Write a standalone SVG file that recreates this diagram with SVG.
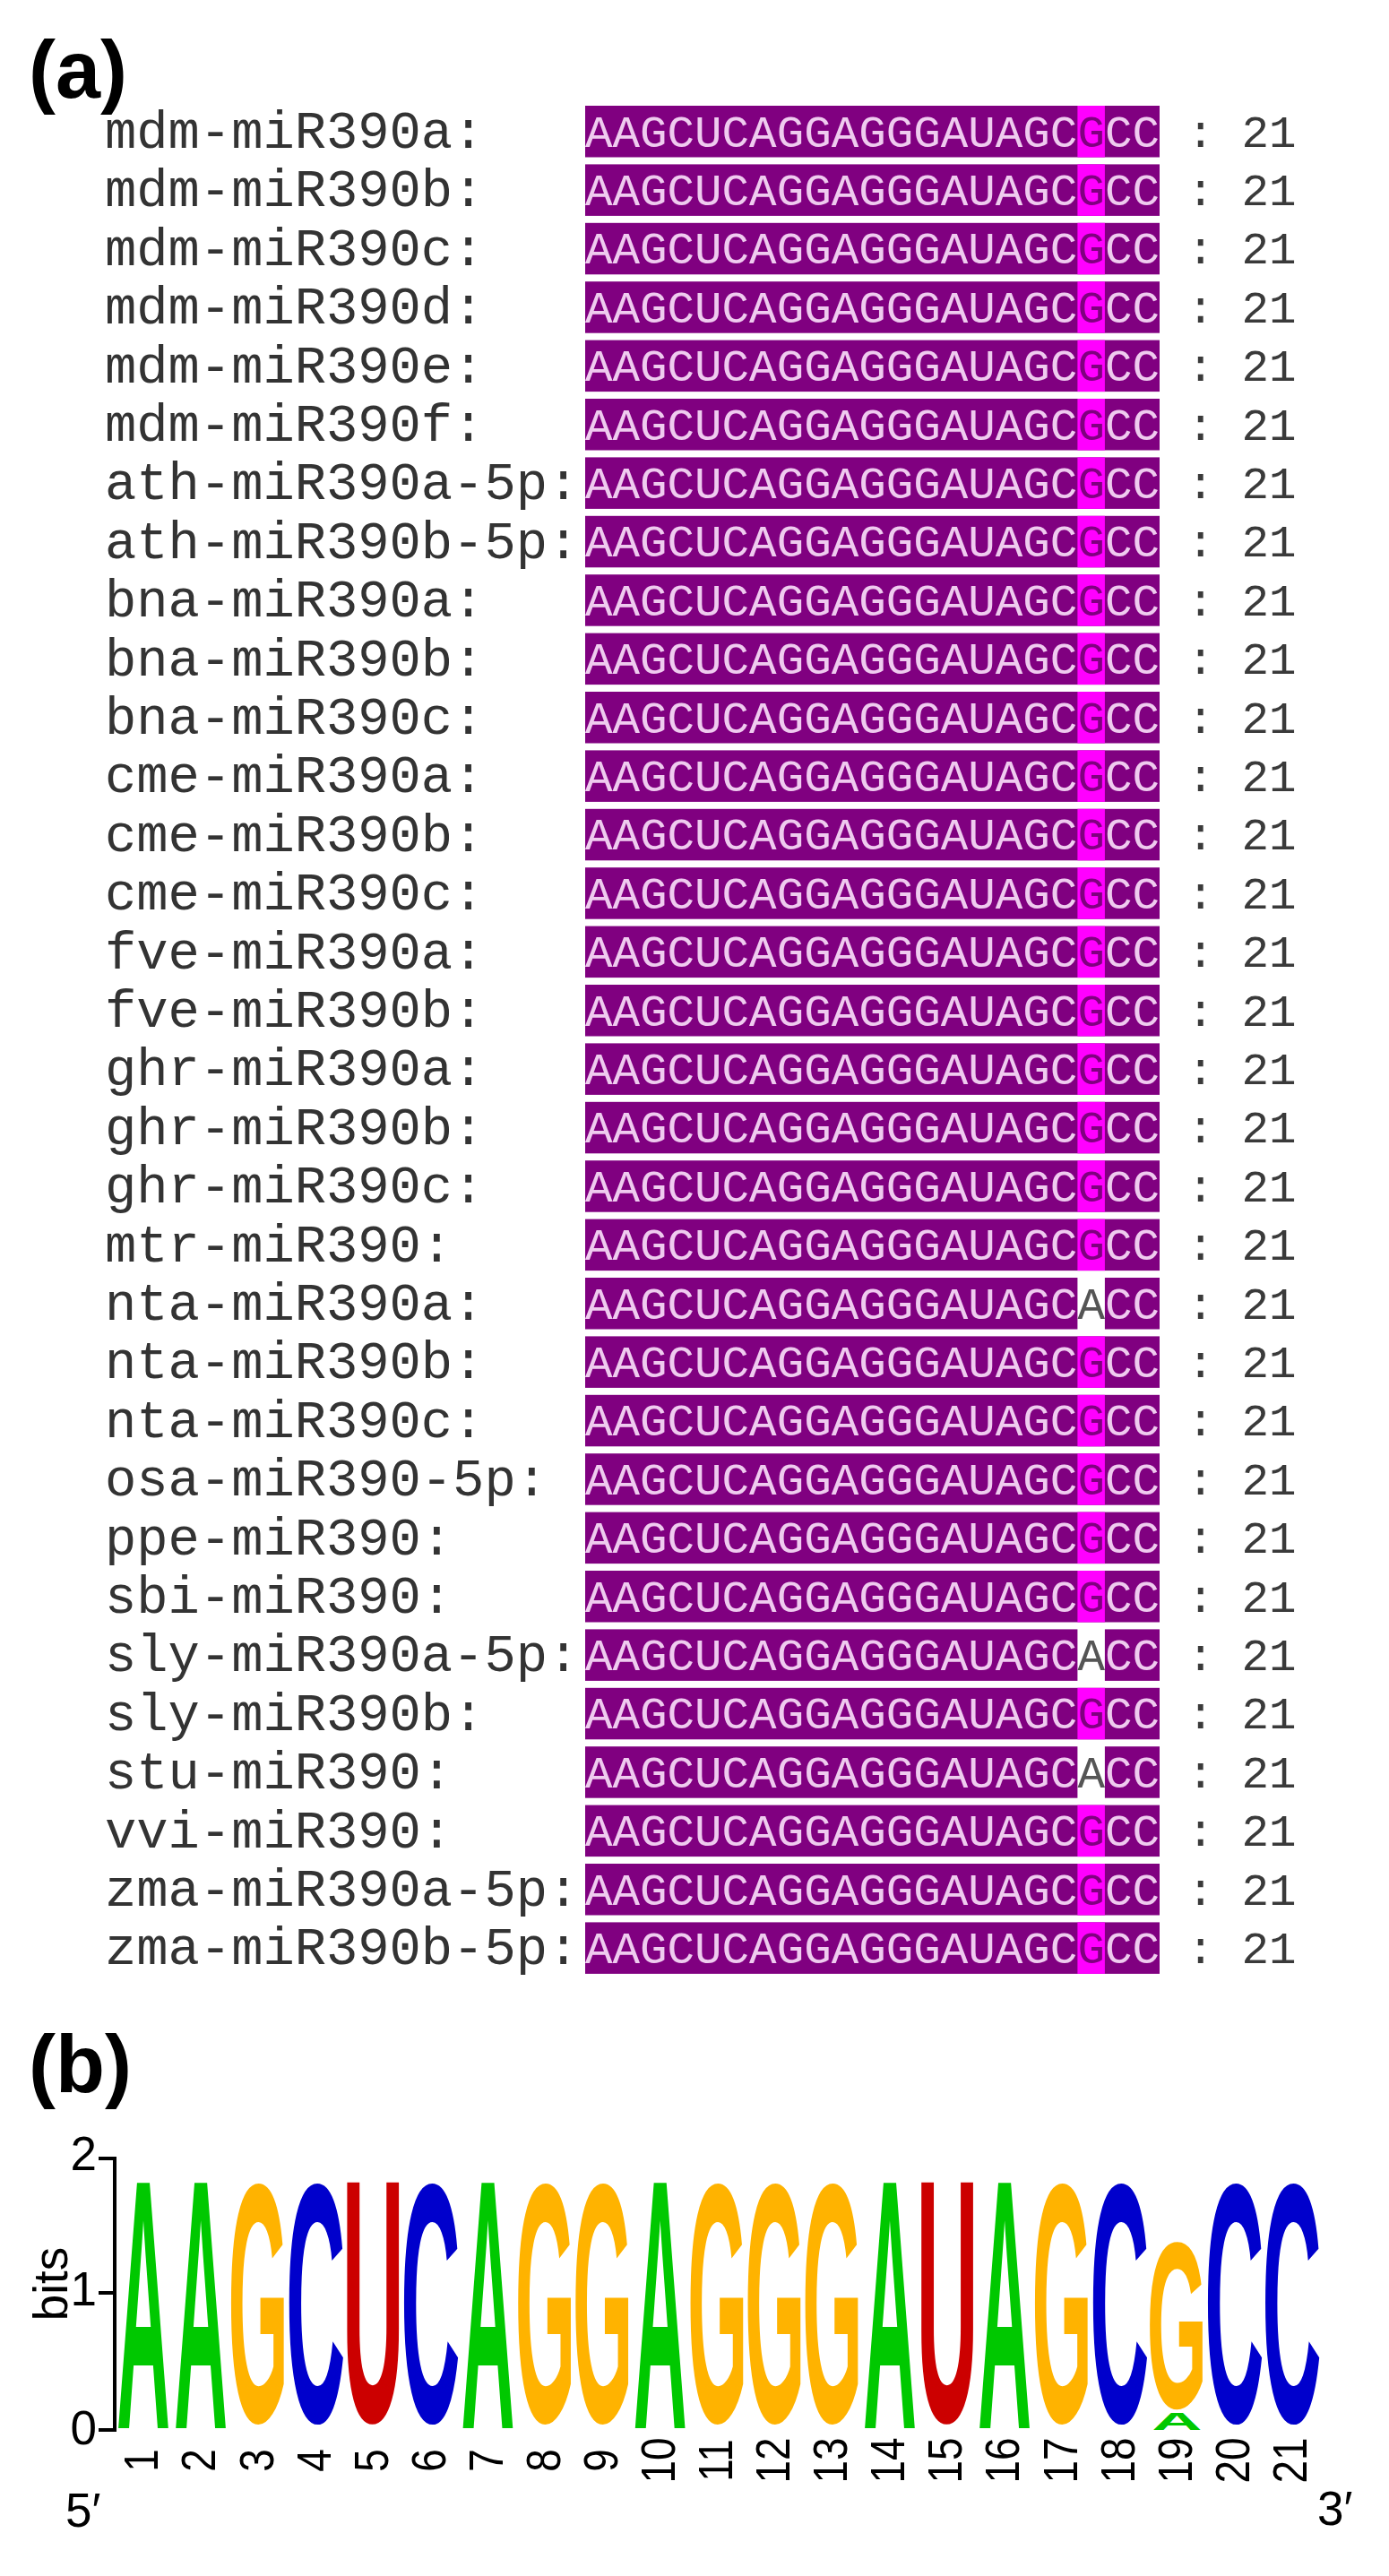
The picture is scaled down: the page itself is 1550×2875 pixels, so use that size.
<svg xmlns="http://www.w3.org/2000/svg" width="1550" height="2875" viewBox="0 0 1550 2875">
<style>
.panel{font-family:"Liberation Sans",Arial,sans-serif;font-weight:bold;font-size:90px;fill:#000}
.lbl{font-family:"Liberation Mono","Courier New",monospace;font-size:58.8px;fill:#333}
.seq{font-family:"Liberation Mono","Courier New",monospace;font-size:50.86px;fill:#efcbef}
.var{fill:#800080}
.alt{fill:#555}
.cnt{font-family:"Liberation Mono","Courier New",monospace;font-size:50.86px;fill:#3a3a3a}
.box{fill:#800080}
.hl{fill:#ff00ff}
.L{font-family:"Liberation Sans",Arial,sans-serif;font-weight:bold;font-size:100px;text-anchor:middle}
.A{fill:#00c800}.C{fill:#0000cc}.G{fill:#ffb300}.U{fill:#cc0000}
.ax{font-family:"Liberation Sans",Arial,sans-serif;font-size:53px;fill:#000}
.xn{font-family:"Liberation Sans",Arial,sans-serif;font-size:54px;fill:#000;text-anchor:middle}
.axis{stroke:#000;stroke-width:4;fill:none}
</style>
<rect width="1550" height="2875" fill="#fff"/>
<text class="panel" x="32" y="109">(a)</text>
<text class="panel" x="32" y="2335">(b)</text>

<g id="alignment">
<g id="row1" transform="translate(0,118)"><text class="lbl" x="117" y="47">mdm-miR390a:</text><rect class="box" x="653" y="0" width="641" height="57.5"/><rect class="hl" x="1202.4" y="0" width="30.5" height="57.5"/><text class="seq" x="653" y="45.5">AAGCUCAGGAGGGAUAGC<tspan class="var">G</tspan>CC</text><text class="cnt" x="1324.5" y="45.5">: 21</text></g>
<g id="row2" transform="translate(0,183.4)"><text class="lbl" x="117" y="47">mdm-miR390b:</text><rect class="box" x="653" y="0" width="641" height="57.5"/><rect class="hl" x="1202.4" y="0" width="30.5" height="57.5"/><text class="seq" x="653" y="45.5">AAGCUCAGGAGGGAUAGC<tspan class="var">G</tspan>CC</text><text class="cnt" x="1324.5" y="45.5">: 21</text></g>
<g id="row3" transform="translate(0,248.8)"><text class="lbl" x="117" y="47">mdm-miR390c:</text><rect class="box" x="653" y="0" width="641" height="57.5"/><rect class="hl" x="1202.4" y="0" width="30.5" height="57.5"/><text class="seq" x="653" y="45.5">AAGCUCAGGAGGGAUAGC<tspan class="var">G</tspan>CC</text><text class="cnt" x="1324.5" y="45.5">: 21</text></g>
<g id="row4" transform="translate(0,314.2)"><text class="lbl" x="117" y="47">mdm-miR390d:</text><rect class="box" x="653" y="0" width="641" height="57.5"/><rect class="hl" x="1202.4" y="0" width="30.5" height="57.5"/><text class="seq" x="653" y="45.5">AAGCUCAGGAGGGAUAGC<tspan class="var">G</tspan>CC</text><text class="cnt" x="1324.5" y="45.5">: 21</text></g>
<g id="row5" transform="translate(0,379.6)"><text class="lbl" x="117" y="47">mdm-miR390e:</text><rect class="box" x="653" y="0" width="641" height="57.5"/><rect class="hl" x="1202.4" y="0" width="30.5" height="57.5"/><text class="seq" x="653" y="45.5">AAGCUCAGGAGGGAUAGC<tspan class="var">G</tspan>CC</text><text class="cnt" x="1324.5" y="45.5">: 21</text></g>
<g id="row6" transform="translate(0,445)"><text class="lbl" x="117" y="47">mdm-miR390f:</text><rect class="box" x="653" y="0" width="641" height="57.5"/><rect class="hl" x="1202.4" y="0" width="30.5" height="57.5"/><text class="seq" x="653" y="45.5">AAGCUCAGGAGGGAUAGC<tspan class="var">G</tspan>CC</text><text class="cnt" x="1324.5" y="45.5">: 21</text></g>
<g id="row7" transform="translate(0,510.4)"><text class="lbl" x="117" y="47">ath-miR390a-5p:</text><rect class="box" x="653" y="0" width="641" height="57.5"/><rect class="hl" x="1202.4" y="0" width="30.5" height="57.5"/><text class="seq" x="653" y="45.5">AAGCUCAGGAGGGAUAGC<tspan class="var">G</tspan>CC</text><text class="cnt" x="1324.5" y="45.5">: 21</text></g>
<g id="row8" transform="translate(0,575.8)"><text class="lbl" x="117" y="47">ath-miR390b-5p:</text><rect class="box" x="653" y="0" width="641" height="57.5"/><rect class="hl" x="1202.4" y="0" width="30.5" height="57.5"/><text class="seq" x="653" y="45.5">AAGCUCAGGAGGGAUAGC<tspan class="var">G</tspan>CC</text><text class="cnt" x="1324.5" y="45.5">: 21</text></g>
<g id="row9" transform="translate(0,641.2)"><text class="lbl" x="117" y="47">bna-miR390a:</text><rect class="box" x="653" y="0" width="641" height="57.5"/><rect class="hl" x="1202.4" y="0" width="30.5" height="57.5"/><text class="seq" x="653" y="45.5">AAGCUCAGGAGGGAUAGC<tspan class="var">G</tspan>CC</text><text class="cnt" x="1324.5" y="45.5">: 21</text></g>
<g id="row10" transform="translate(0,706.6)"><text class="lbl" x="117" y="47">bna-miR390b:</text><rect class="box" x="653" y="0" width="641" height="57.5"/><rect class="hl" x="1202.4" y="0" width="30.5" height="57.5"/><text class="seq" x="653" y="45.5">AAGCUCAGGAGGGAUAGC<tspan class="var">G</tspan>CC</text><text class="cnt" x="1324.5" y="45.5">: 21</text></g>
<g id="row11" transform="translate(0,772)"><text class="lbl" x="117" y="47">bna-miR390c:</text><rect class="box" x="653" y="0" width="641" height="57.5"/><rect class="hl" x="1202.4" y="0" width="30.5" height="57.5"/><text class="seq" x="653" y="45.5">AAGCUCAGGAGGGAUAGC<tspan class="var">G</tspan>CC</text><text class="cnt" x="1324.5" y="45.5">: 21</text></g>
<g id="row12" transform="translate(0,837.4)"><text class="lbl" x="117" y="47">cme-miR390a:</text><rect class="box" x="653" y="0" width="641" height="57.5"/><rect class="hl" x="1202.4" y="0" width="30.5" height="57.5"/><text class="seq" x="653" y="45.5">AAGCUCAGGAGGGAUAGC<tspan class="var">G</tspan>CC</text><text class="cnt" x="1324.5" y="45.5">: 21</text></g>
<g id="row13" transform="translate(0,902.8)"><text class="lbl" x="117" y="47">cme-miR390b:</text><rect class="box" x="653" y="0" width="641" height="57.5"/><rect class="hl" x="1202.4" y="0" width="30.5" height="57.5"/><text class="seq" x="653" y="45.5">AAGCUCAGGAGGGAUAGC<tspan class="var">G</tspan>CC</text><text class="cnt" x="1324.5" y="45.5">: 21</text></g>
<g id="row14" transform="translate(0,968.2)"><text class="lbl" x="117" y="47">cme-miR390c:</text><rect class="box" x="653" y="0" width="641" height="57.5"/><rect class="hl" x="1202.4" y="0" width="30.5" height="57.5"/><text class="seq" x="653" y="45.5">AAGCUCAGGAGGGAUAGC<tspan class="var">G</tspan>CC</text><text class="cnt" x="1324.5" y="45.5">: 21</text></g>
<g id="row15" transform="translate(0,1033.6)"><text class="lbl" x="117" y="47">fve-miR390a:</text><rect class="box" x="653" y="0" width="641" height="57.5"/><rect class="hl" x="1202.4" y="0" width="30.5" height="57.5"/><text class="seq" x="653" y="45.5">AAGCUCAGGAGGGAUAGC<tspan class="var">G</tspan>CC</text><text class="cnt" x="1324.5" y="45.5">: 21</text></g>
<g id="row16" transform="translate(0,1099)"><text class="lbl" x="117" y="47">fve-miR390b:</text><rect class="box" x="653" y="0" width="641" height="57.5"/><rect class="hl" x="1202.4" y="0" width="30.5" height="57.5"/><text class="seq" x="653" y="45.5">AAGCUCAGGAGGGAUAGC<tspan class="var">G</tspan>CC</text><text class="cnt" x="1324.5" y="45.5">: 21</text></g>
<g id="row17" transform="translate(0,1164.4)"><text class="lbl" x="117" y="47">ghr-miR390a:</text><rect class="box" x="653" y="0" width="641" height="57.5"/><rect class="hl" x="1202.4" y="0" width="30.5" height="57.5"/><text class="seq" x="653" y="45.5">AAGCUCAGGAGGGAUAGC<tspan class="var">G</tspan>CC</text><text class="cnt" x="1324.5" y="45.5">: 21</text></g>
<g id="row18" transform="translate(0,1229.8)"><text class="lbl" x="117" y="47">ghr-miR390b:</text><rect class="box" x="653" y="0" width="641" height="57.5"/><rect class="hl" x="1202.4" y="0" width="30.5" height="57.5"/><text class="seq" x="653" y="45.5">AAGCUCAGGAGGGAUAGC<tspan class="var">G</tspan>CC</text><text class="cnt" x="1324.5" y="45.5">: 21</text></g>
<g id="row19" transform="translate(0,1295.2)"><text class="lbl" x="117" y="47">ghr-miR390c:</text><rect class="box" x="653" y="0" width="641" height="57.5"/><rect class="hl" x="1202.4" y="0" width="30.5" height="57.5"/><text class="seq" x="653" y="45.5">AAGCUCAGGAGGGAUAGC<tspan class="var">G</tspan>CC</text><text class="cnt" x="1324.5" y="45.5">: 21</text></g>
<g id="row20" transform="translate(0,1360.6)"><text class="lbl" x="117" y="47">mtr-miR390:</text><rect class="box" x="653" y="0" width="641" height="57.5"/><rect class="hl" x="1202.4" y="0" width="30.5" height="57.5"/><text class="seq" x="653" y="45.5">AAGCUCAGGAGGGAUAGC<tspan class="var">G</tspan>CC</text><text class="cnt" x="1324.5" y="45.5">: 21</text></g>
<g id="row21" transform="translate(0,1426)"><text class="lbl" x="117" y="47">nta-miR390a:</text><rect class="box" x="653" y="0" width="549.4" height="57.5"/><rect class="box" x="1232.9" y="0" width="61.1" height="57.5"/><text class="seq" x="653" y="45.5">AAGCUCAGGAGGGAUAGC<tspan class="alt">A</tspan>CC</text><text class="cnt" x="1324.5" y="45.5">: 21</text></g>
<g id="row22" transform="translate(0,1491.4)"><text class="lbl" x="117" y="47">nta-miR390b:</text><rect class="box" x="653" y="0" width="641" height="57.5"/><rect class="hl" x="1202.4" y="0" width="30.5" height="57.5"/><text class="seq" x="653" y="45.5">AAGCUCAGGAGGGAUAGC<tspan class="var">G</tspan>CC</text><text class="cnt" x="1324.5" y="45.5">: 21</text></g>
<g id="row23" transform="translate(0,1556.8)"><text class="lbl" x="117" y="47">nta-miR390c:</text><rect class="box" x="653" y="0" width="641" height="57.5"/><rect class="hl" x="1202.4" y="0" width="30.5" height="57.5"/><text class="seq" x="653" y="45.5">AAGCUCAGGAGGGAUAGC<tspan class="var">G</tspan>CC</text><text class="cnt" x="1324.5" y="45.5">: 21</text></g>
<g id="row24" transform="translate(0,1622.2)"><text class="lbl" x="117" y="47">osa-miR390-5p:</text><rect class="box" x="653" y="0" width="641" height="57.5"/><rect class="hl" x="1202.4" y="0" width="30.5" height="57.5"/><text class="seq" x="653" y="45.5">AAGCUCAGGAGGGAUAGC<tspan class="var">G</tspan>CC</text><text class="cnt" x="1324.5" y="45.5">: 21</text></g>
<g id="row25" transform="translate(0,1687.6)"><text class="lbl" x="117" y="47">ppe-miR390:</text><rect class="box" x="653" y="0" width="641" height="57.5"/><rect class="hl" x="1202.4" y="0" width="30.5" height="57.5"/><text class="seq" x="653" y="45.5">AAGCUCAGGAGGGAUAGC<tspan class="var">G</tspan>CC</text><text class="cnt" x="1324.5" y="45.5">: 21</text></g>
<g id="row26" transform="translate(0,1753)"><text class="lbl" x="117" y="47">sbi-miR390:</text><rect class="box" x="653" y="0" width="641" height="57.5"/><rect class="hl" x="1202.4" y="0" width="30.5" height="57.5"/><text class="seq" x="653" y="45.5">AAGCUCAGGAGGGAUAGC<tspan class="var">G</tspan>CC</text><text class="cnt" x="1324.5" y="45.5">: 21</text></g>
<g id="row27" transform="translate(0,1818.4)"><text class="lbl" x="117" y="47">sly-miR390a-5p:</text><rect class="box" x="653" y="0" width="549.4" height="57.5"/><rect class="box" x="1232.9" y="0" width="61.1" height="57.5"/><text class="seq" x="653" y="45.5">AAGCUCAGGAGGGAUAGC<tspan class="alt">A</tspan>CC</text><text class="cnt" x="1324.5" y="45.5">: 21</text></g>
<g id="row28" transform="translate(0,1883.8)"><text class="lbl" x="117" y="47">sly-miR390b:</text><rect class="box" x="653" y="0" width="641" height="57.5"/><rect class="hl" x="1202.4" y="0" width="30.5" height="57.5"/><text class="seq" x="653" y="45.5">AAGCUCAGGAGGGAUAGC<tspan class="var">G</tspan>CC</text><text class="cnt" x="1324.5" y="45.5">: 21</text></g>
<g id="row29" transform="translate(0,1949.2)"><text class="lbl" x="117" y="47">stu-miR390:</text><rect class="box" x="653" y="0" width="549.4" height="57.5"/><rect class="box" x="1232.9" y="0" width="61.1" height="57.5"/><text class="seq" x="653" y="45.5">AAGCUCAGGAGGGAUAGC<tspan class="alt">A</tspan>CC</text><text class="cnt" x="1324.5" y="45.5">: 21</text></g>
<g id="row30" transform="translate(0,2014.6)"><text class="lbl" x="117" y="47">vvi-miR390:</text><rect class="box" x="653" y="0" width="641" height="57.5"/><rect class="hl" x="1202.4" y="0" width="30.5" height="57.5"/><text class="seq" x="653" y="45.5">AAGCUCAGGAGGGAUAGC<tspan class="var">G</tspan>CC</text><text class="cnt" x="1324.5" y="45.5">: 21</text></g>
<g id="row31" transform="translate(0,2080)"><text class="lbl" x="117" y="47">zma-miR390a-5p:</text><rect class="box" x="653" y="0" width="641" height="57.5"/><rect class="hl" x="1202.4" y="0" width="30.5" height="57.5"/><text class="seq" x="653" y="45.5">AAGCUCAGGAGGGAUAGC<tspan class="var">G</tspan>CC</text><text class="cnt" x="1324.5" y="45.5">: 21</text></g>
<g id="row32" transform="translate(0,2145.4)"><text class="lbl" x="117" y="47">zma-miR390b-5p:</text><rect class="box" x="653" y="0" width="641" height="57.5"/><rect class="hl" x="1202.4" y="0" width="30.5" height="57.5"/><text class="seq" x="653" y="45.5">AAGCUCAGGAGGGAUAGC<tspan class="var">G</tspan>CC</text><text class="cnt" x="1324.5" y="45.5">: 21</text></g>
</g>

<g id="logo">
<g id="yaxis">
<path class="axis" d="M128,2407V2714M110,2409H128M110,2559H128M110,2712H128"/>
<text class="ax" x="108" y="2422" text-anchor="end">2</text>
<text class="ax" x="108" y="2573" text-anchor="end">1</text>
<text class="ax" x="108" y="2728" text-anchor="end">0</text>
<text class="ax" transform="translate(75,2549) rotate(-90)" text-anchor="middle">bits</text>
</g>
<g id="letters">
<text class="L A" transform="translate(160,2710) scale(0.83,3.98)">A</text>
<text class="L A" transform="translate(224.1,2710) scale(0.83,3.98)">A</text>
<text class="L G" transform="translate(288.2,2702.4) scale(0.87,3.8)">G</text>
<text class="L C" transform="translate(352.2,2702.4) scale(0.92,3.8)">C</text>
<text class="L U" transform="translate(416.3,2702) scale(0.96,3.87)">U</text>
<text class="L C" transform="translate(480.4,2702.4) scale(0.92,3.8)">C</text>
<text class="L A" transform="translate(544.5,2710) scale(0.83,3.98)">A</text>
<text class="L G" transform="translate(608.5,2702.4) scale(0.87,3.8)">G</text>
<text class="L G" transform="translate(672.6,2702.4) scale(0.87,3.8)">G</text>
<text class="L A" transform="translate(736.7,2710) scale(0.83,3.98)">A</text>
<text class="L G" transform="translate(800.8,2702.4) scale(0.87,3.8)">G</text>
<text class="L G" transform="translate(864.8,2702.4) scale(0.87,3.8)">G</text>
<text class="L G" transform="translate(928.9,2702.4) scale(0.87,3.8)">G</text>
<text class="L A" transform="translate(993,2710) scale(0.83,3.98)">A</text>
<text class="L U" transform="translate(1057.1,2702) scale(0.96,3.87)">U</text>
<text class="L A" transform="translate(1121.1,2710) scale(0.83,3.98)">A</text>
<text class="L G" transform="translate(1185.2,2702.4) scale(0.87,3.8)">G</text>
<text class="L C" transform="translate(1249.3,2702.4) scale(0.92,3.8)">C</text>
<text class="L G" transform="translate(1313.4,2686.7) scale(0.87,2.64)">G</text>
<text class="L A" transform="translate(1313.4,2712) scale(0.78,0.28)">A</text>
<text class="L C" transform="translate(1377.4,2702.4) scale(0.92,3.8)">C</text>
<text class="L C" transform="translate(1441.5,2702.4) scale(0.92,3.8)">C</text>
</g>
<g id="xaxis">
<text class="xn" transform="translate(176.3,2746) rotate(-90) scale(0.85,1)">1</text>
<text class="xn" transform="translate(240.4,2746) rotate(-90) scale(0.85,1)">2</text>
<text class="xn" transform="translate(304.5,2746) rotate(-90) scale(0.85,1)">3</text>
<text class="xn" transform="translate(368.5,2746) rotate(-90) scale(0.85,1)">4</text>
<text class="xn" transform="translate(432.6,2746) rotate(-90) scale(0.85,1)">5</text>
<text class="xn" transform="translate(496.7,2746) rotate(-90) scale(0.85,1)">6</text>
<text class="xn" transform="translate(560.8,2746) rotate(-90) scale(0.85,1)">7</text>
<text class="xn" transform="translate(624.8,2746) rotate(-90) scale(0.85,1)">8</text>
<text class="xn" transform="translate(688.9,2746) rotate(-90) scale(0.85,1)">9</text>
<text class="xn" transform="translate(753,2746) rotate(-90) scale(0.85,1)">10</text>
<text class="xn" transform="translate(817.1,2746) rotate(-90) scale(0.85,1)">11</text>
<text class="xn" transform="translate(881.1,2746) rotate(-90) scale(0.85,1)">12</text>
<text class="xn" transform="translate(945.2,2746) rotate(-90) scale(0.85,1)">13</text>
<text class="xn" transform="translate(1009.3,2746) rotate(-90) scale(0.85,1)">14</text>
<text class="xn" transform="translate(1073.4,2746) rotate(-90) scale(0.85,1)">15</text>
<text class="xn" transform="translate(1137.4,2746) rotate(-90) scale(0.85,1)">16</text>
<text class="xn" transform="translate(1201.5,2746) rotate(-90) scale(0.85,1)">17</text>
<text class="xn" transform="translate(1265.6,2746) rotate(-90) scale(0.85,1)">18</text>
<text class="xn" transform="translate(1329.7,2746) rotate(-90) scale(0.85,1)">19</text>
<text class="xn" transform="translate(1393.7,2746) rotate(-90) scale(0.85,1)">20</text>
<text class="xn" transform="translate(1457.8,2746) rotate(-90) scale(0.85,1)">21</text>
</g>
<text class="ax" x="73" y="2820" font-size="55">5′</text>
<text class="ax" x="1470" y="2818" font-size="55">3′</text>
</g>
</svg>
